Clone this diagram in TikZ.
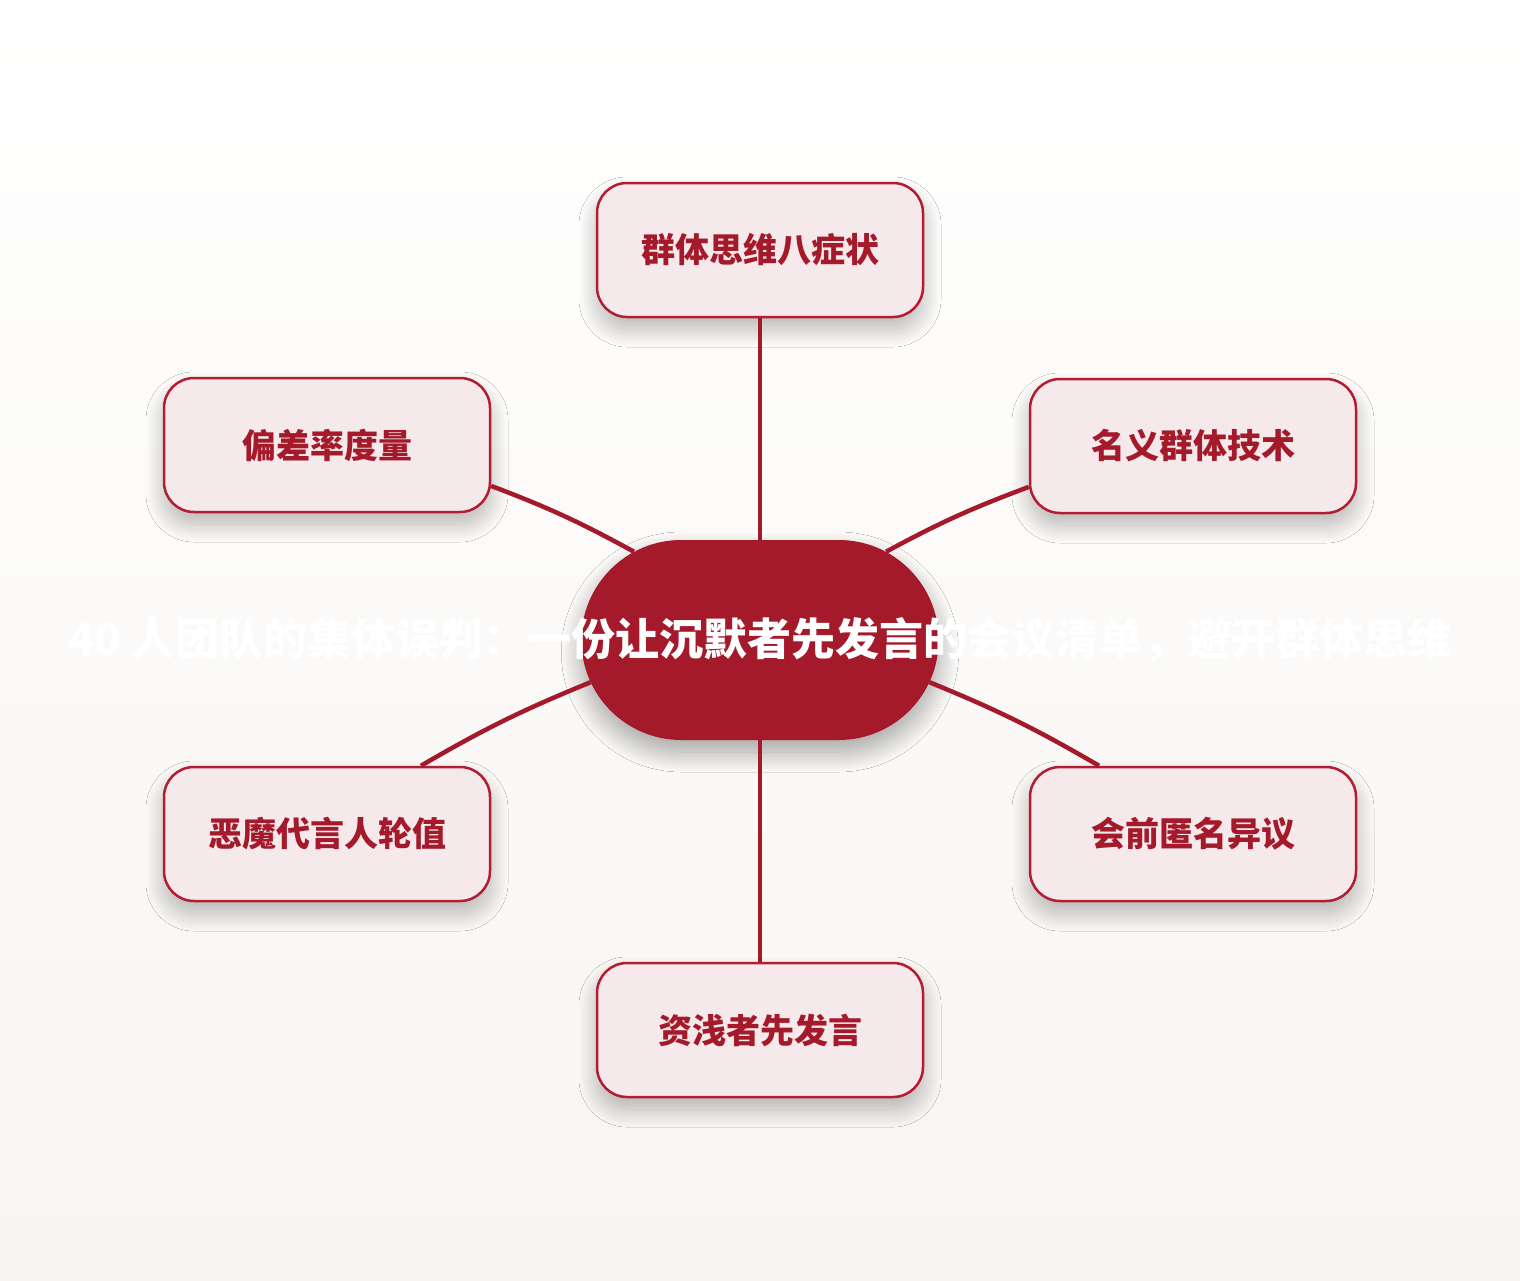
\documentclass[tikz,border=0pt]{standalone}
\usepackage{fontspec}
\newfontfamily\cjk{Noto Sans CJK SC}
\usetikzlibrary{positioning,shapes.misc,shadows.blur}
\definecolor{hubred}{HTML}{A51A2B}
\definecolor{rimred}{HTML}{B21D31}
\definecolor{topicpink}{HTML}{F5E9EC}
\definecolor{paper}{HTML}{F7F5F1}

\begin{document}
\begin{tikzpicture}[x=1pt,y=-1pt,
    topic/.style={draw=rimred,line width=2.5pt,fill=topicpink,rounded corners=30pt,
        minimum width=326pt,minimum height=134pt,text=hubred,
        font=\cjk\bfseries\fontsize{34}{40}\selectfont,
        blur shadow={shadow xshift=0pt,shadow yshift=-12pt,shadow blur radius=18pt,
            shadow blur steps=25,shadow opacity=28}},
    hub/.style={rounded rectangle,fill=hubred,minimum width=364pt,minimum height=200pt,
        blur shadow={shadow xshift=0pt,shadow yshift=-12pt,shadow blur radius=20pt,
            shadow blur steps=25,shadow opacity=35}},
    spoke/.style={hubred,line width=4.5pt}]
        % page
        \shade[use as bounding box,top color=white,bottom color=paper] (0,0) rectangle (1520,1280);
        % centre
        \node[hub] (hub) at (760,640) {};
        \node[text=white,font=\cjk\bfseries\fontsize{44}{50}\selectfont] (title) at (hub.center)
            {40 人团队的集体误判：一份让沉默者先发言的会议清单，避开群体思维};
        % topics
        \foreach \name/\x/\y/\txt in {top/760/250/群体思维八症状, ul/327/445/偏差率度量,
                ur/1193/446/名义群体技术, ll/327/834/恶魔代言人轮值,
                lr/1193/834/会前匿名异议, bot/760/1030/资浅者先发言} {
            \node[topic] (\name) at (\x,\y) {\txt};
        }
        % spokes
        \draw[spoke] (top.south) -- (hub.north);
        \draw[spoke] (bot.north) -- (hub.south);
        \draw[spoke] (ul.-14) to[bend left=4] (hub.145);
        \draw[spoke] (ll.36) to[bend left=4] (hub.194);
        \draw[spoke] (ur.194) to[bend right=4] (hub.35);
        \draw[spoke] (lr.144) to[bend right=4] (hub.-14);
  \end{tikzpicture}
\end{document}
